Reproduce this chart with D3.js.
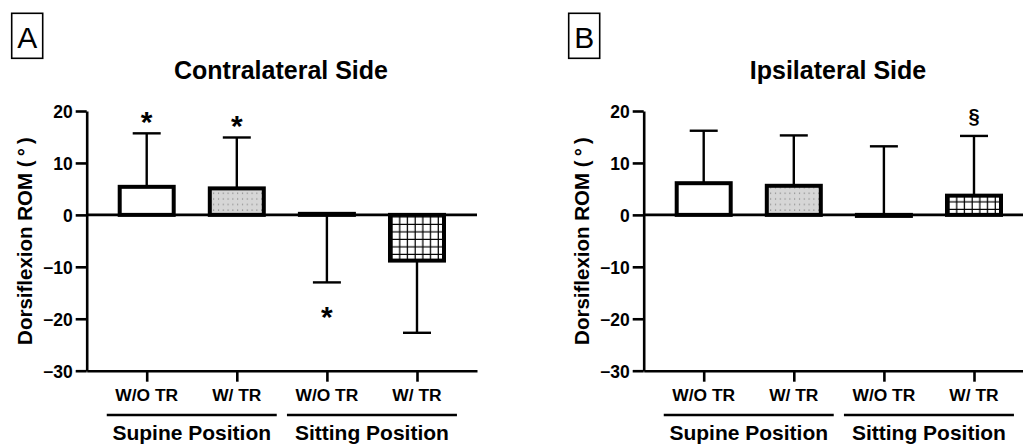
<!DOCTYPE html>
<html><head><meta charset="utf-8">
<script src="https://cdn.jsdelivr.net/npm/d3@7"></script>
<style>body{margin:0;background:#fff} svg{display:block}</style>
</head><body><svg id="c" width="1023" height="445"></svg>
<script>
const categories = ["W/O TR", "W/ TR", "W/O TR", "W/ TR"];
const groups = ["Supine Position", "Sitting Position"];
const yTicks = [-30, -20, -10, 0, 10, 20];
const contraMean = [5.4, 5.1, 0.2, -8.8];
const contraErrTip = [15.7, 14.9, -13.0, -22.7];
const contraMarks = ["*", "*", "*", ""];
const ipsiMean = [6.1, 5.6, -0.2, 3.7];
const ipsiErrTip = [16.2, 15.3, 13.2, 15.2];
const ipsiMarks = ["", "", "", "§"];
const panelLetters = ["A", "B"];
const panelTitles = ["Contralateral Side", "Ipsilateral Side"];
const fills = ["#fff", "url(#dots)", "#fff", "url(#grid)"];

const FONT = "'Liberation Sans', Arial, sans-serif";
const svg = d3.select("#c");
const defs = svg.append("defs");
const dp = defs.append("pattern").attr("id", "dots").attr("patternUnits", "userSpaceOnUse")
  .attr("width", 4.8).attr("height", 5.6);
dp.append("rect").attr("width", 4.8).attr("height", 5.6).attr("fill", "#d6d6d6");
dp.append("rect").attr("x", 2).attr("y", 2.4).attr("width", 1).attr("height", 1).attr("fill", "#666");
const gp = defs.append("pattern").attr("id", "grid").attr("patternUnits", "userSpaceOnUse")
  .attr("width", 7.7).attr("height", 7.5);
gp.append("rect").attr("width", 7.7).attr("height", 7.5).attr("fill", "#fff");
gp.append("path").attr("d", "M7.1,0V7.5M0,6.9H7.7").attr("stroke", "#000").attr("stroke-width", 1.3).attr("fill", "none");

function panel(idx, offset, means, tips, marks) {
  const g = svg.append("g").attr("transform", `translate(${offset},0)`);
  const y = d3.scaleLinear().domain([-30, 20]).range([370.7, 111]);
  const x = d3.scalePoint().domain(categories.map((d, i) => i)).range([86.7, 477]).padding(0.666);

  g.append("rect").attr("x", 11.7).attr("y", 13.3).attr("width", 31).attr("height", 45)
    .attr("fill", "none").attr("stroke", "#000").attr("stroke-width", 1.6);
  g.append("text").attr("x", 27.2).attr("y", 48).attr("text-anchor", "middle")
    .attr("font-family", FONT).attr("font-size", 30).text(panelLetters[idx]);

  g.append("text").attr("x", 281).attr("y", 78.5).attr("text-anchor", "middle")
    .attr("font-family", FONT).attr("font-weight", "bold").attr("font-size", 25).text(panelTitles[idx]);

  g.append("text").attr("transform", "translate(32,241) rotate(-90)").attr("text-anchor", "middle")
    .attr("font-family", FONT).attr("font-weight", "bold").attr("font-size", 20.5)
    .text("Dorsiflexion ROM (\u2009°\u2009)");

  const ya = g.append("g").attr("transform", "translate(86.7,0)")
    .call(d3.axisLeft(y).tickValues(yTicks).tickSize(11).tickSizeOuter(0).tickPadding(3));
  ya.select(".domain").attr("stroke-width", 2.6);
  ya.selectAll(".tick line").attr("stroke-width", 2.6);
  ya.selectAll(".tick text").attr("font-family", FONT).attr("font-weight", "bold")
    .attr("font-size", 17.5).attr("fill", "#000").attr("dy", "0.36em");

  const xa = g.append("g").attr("transform", `translate(0,${y(-30)})`)
    .call(d3.axisBottom(x).tickSize(11).tickSizeOuter(0).tickFormat(() => ""));
  xa.select(".domain").attr("stroke-width", 2.6);
  xa.selectAll(".tick line").attr("stroke-width", 2.6);

  g.selectAll(".cat").data(categories).enter().append("text")
    .attr("x", (d, i) => x(i)).attr("y", 401).attr("text-anchor", "middle")
    .attr("font-family", FONT).attr("font-weight", "bold").attr("font-size", 17.4).text(d => d);

  groups.forEach((gr, gi) => {
    const cx = (x(gi * 2) + x(gi * 2 + 1)) / 2;
    g.append("line").attr("x1", cx - 85).attr("x2", cx + 85).attr("y1", 415).attr("y2", 415)
      .attr("stroke", "#000").attr("stroke-width", 2.6);
    g.append("text").attr("x", cx).attr("y", 440).attr("text-anchor", "middle")
      .attr("font-family", FONT).attr("font-weight", "bold").attr("font-size", 21).text(gr);
  });

  const cap = 14;
  means.forEach((m, i) => {
    const cx = x(i);
    g.append("line").attr("x1", cx).attr("x2", cx).attr("y1", y(m)).attr("y2", y(tips[i]))
      .attr("stroke", "#000").attr("stroke-width", 2.4);
    g.append("line").attr("x1", cx - cap).attr("x2", cx + cap).attr("y1", y(tips[i])).attr("y2", y(tips[i]))
      .attr("stroke", "#000").attr("stroke-width", 2.4);
  });

  g.append("line").attr("x1", 86.7).attr("x2", 477).attr("y1", y(0)).attr("y2", y(0))
    .attr("stroke", "#000").attr("stroke-width", 2.6);

  const bw = 54;
  g.selectAll(".bar").data(means).enter().append("rect")
    .attr("x", (d, i) => x(i) - bw / 2).attr("width", bw)
    .attr("y", d => Math.min(y(d), y(0))).attr("height", d => Math.abs(y(d) - y(0)))
    .attr("fill", (d, i) => fills[i]).attr("stroke", "#000").attr("stroke-width", 4);

  marks.forEach((mk, i) => {
    if (!mk) return;
    const tip = y(tips[i]);
    const up = tips[i] > means[i];
    if (mk === "§") {
      g.append("text").attr("x", x(i)).attr("y", tip - 13).attr("text-anchor", "middle")
        .attr("font-family", FONT).attr("font-weight", "bold").attr("font-size", 20).text(mk);
    } else {
      const cy = up ? tip - 18 : tip + 28;
      g.append("text").attr("x", x(i)).attr("y", cy + 17).attr("text-anchor", "middle")
        .attr("font-family", FONT).attr("font-weight", "bold").attr("font-size", 30).text(mk);
    }
  });
}

panel(0, 0, contraMean, contraErrTip, contraMarks);
panel(1, 557, ipsiMean, ipsiErrTip, ipsiMarks);
</script></body></html>
